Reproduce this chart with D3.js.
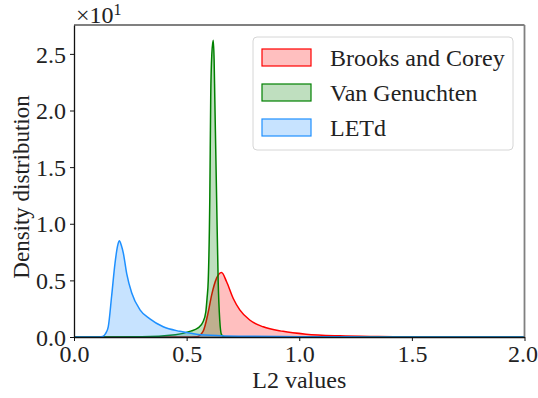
<!DOCTYPE html>
<html>
<head>
<meta charset="utf-8">
<script src="https://cdn.jsdelivr.net/npm/d3@7"></script>
<style>
  body { margin: 0; background: #fff; }
  svg text { font-family: "Liberation Serif", "Times New Roman", serif; fill: #222; }
</style>
</head>
<body>
<div id="chart"></div>
<script>
var series_names = ["Brooks and Corey", "Van Genuchten", "LETd"]
var series_colors = ["#ff0000", "#008000", "#1e90ff"]

var bc_x = [0, 0.5, 0.544, 0.573, 0.596, 0.611, 0.633, 0.655, 0.677, 0.707, 0.736, 0.78, 0.84, 0.928, 1.03, 1.18, 1.35, 1.55, 1.7, 2.0]
var bc_y = [0, 0, 0.02, 0.5, 2.2, 3.7, 5.2, 5.7, 4.9, 3.4, 2.4, 1.5, 0.9, 0.5, 0.25, 0.1, 0.04, 0.01, 0, 0]

var vg_x = [0, 0.3, 0.45, 0.514, 0.551, 0.573, 0.585, 0.591, 0.596, 0.603, 0.607, 0.612, 0.618, 0.622, 0.625, 0.633, 0.64, 0.647, 0.655, 0.67, 2.0]
var vg_y = [0, 0.02, 0.2, 0.5, 0.8, 1.35, 2.2, 3.5, 5, 12.4, 21.2, 25, 26.2, 24.5, 21.2, 12.4, 5, 1.5, 0.2, 0, 0]

var let_x = [0, 0.10, 0.127, 0.14, 0.152, 0.167, 0.182, 0.193, 0.201, 0.21, 0.219, 0.234, 0.256, 0.293, 0.337, 0.396, 0.47, 0.544, 0.65, 0.8, 1.0, 1.3, 1.6, 2.0]
var let_y = [0, 0, 0.05, 0.3, 0.9, 3.6, 6.5, 8.0, 8.5, 8.1, 7.4, 5.6, 3.9, 2.4, 1.6, 0.9, 0.5, 0.25, 0.12, 0.06, 0.03, 0.01, 0, 0]

var x_ticks = [0, 0.5, 1.0, 1.5, 2.0]
var y_ticks = [0, 5, 10, 15, 20, 25]

var width = 538, height = 398
var m_left = 74, m_right = 524.5, m_top = 25, m_bottom = 337

var svg = d3.select("#chart").append("svg")
    .attr("width", width)
    .attr("height", height)

var x = d3.scaleLinear().domain([0, 2]).range([m_left, m_right])
var y = d3.scaleLinear().domain([0, 27.55]).range([m_bottom, m_top])

var data = [
    {name: series_names[0], color: series_colors[0], xs: bc_x, ys: bc_y},
    {name: series_names[1], color: series_colors[1], xs: vg_x, ys: vg_y},
    {name: series_names[2], color: series_colors[2], xs: let_x, ys: let_y}
]

var area = d3.area()
    .x(function(d){ return x(d[0]) })
    .y0(y(0))
    .y1(function(d){ return y(d[1]) })
    .curve(d3.curveMonotoneX)

var line = d3.line()
    .x(function(d){ return x(d[0]) })
    .y(function(d){ return y(d[1]) })
    .curve(d3.curveMonotoneX)

var plot = svg.append("g")

data.forEach(function(s){
    var pts = s.xs.map(function(v, i){ return [v, s.ys[i]] })
    plot.append("path")
        .attr("d", area(pts))
        .style("fill", s.color)
        .style("fill-opacity", 0.25)
        .style("stroke", "none")
    plot.append("path")
        .attr("d", line(pts))
        .style("fill", "none")
        .style("stroke", s.color)
        .style("stroke-width", 1.5)
})

// spines: top and right gray, left and bottom dark
svg.append("line").attr("x1", m_left).attr("x2", m_right).attr("y1", m_top).attr("y2", m_top)
    .style("stroke", "#808080").style("stroke-width", 1.8)
svg.append("line").attr("x1", m_right).attr("x2", m_right).attr("y1", m_top).attr("y2", m_bottom)
    .style("stroke", "#808080").style("stroke-width", 1.8)

var xAxis = svg.append("g")
    .attr("transform", "translate(0," + m_bottom + ")")
    .call(d3.axisBottom(x).tickValues(x_ticks).tickSize(4).tickSizeOuter(0)
        .tickFormat(d3.format(".1f")))
var yAxis = svg.append("g")
    .attr("transform", "translate(" + m_left + ",0)")
    .call(d3.axisLeft(y).tickValues(y_ticks).tickSize(4).tickSizeOuter(0)
        .tickFormat(function(d){ return d3.format(".1f")(d / 10) }))

;[xAxis, yAxis].forEach(function(a){
    a.select(".domain").style("stroke", "#111").style("stroke-width", 1.3)
    a.selectAll(".tick line").style("stroke", "#111").style("stroke-width", 1)
    a.selectAll(".tick text")
        .style("font-family", '"Liberation Serif", serif')
        .style("font-size", "24px")
        .style("fill", "#222")
})
xAxis.selectAll(".tick text").attr("y", 8).attr("dy", "0.71em")
// keep the last label inside the window
xAxis.selectAll(".tick text").filter(function(d){ return d == 2 }).attr("x", -2)
yAxis.selectAll(".tick text").attr("x", -8).attr("dy", "0.34em")

// axis labels
svg.append("text")
    .attr("x", (m_left + m_right) / 2)
    .attr("y", 388)
    .attr("text-anchor", "middle")
    .style("font-size", "24px")
    .text("L2 values")

svg.append("text")
    .attr("transform", "translate(29,187) rotate(-90)")
    .attr("text-anchor", "middle")
    .style("font-size", "23px")
    .text("Density distribution")

// offset text
var off = svg.append("text")
    .attr("x", 76)
    .attr("y", 23)
    .style("font-size", "24px")
off.append("tspan").text("\u00d710")
off.append("tspan").attr("dy", -8).style("font-size", "16px").text("1")

// legend
var legend = svg.append("g")
legend.append("rect")
    .attr("x", 253).attr("y", 37)
    .attr("width", 260).attr("height", 113)
    .attr("rx", 4)
    .style("fill", "#fff").style("fill-opacity", 0.8)
    .style("stroke", "#d6d6d6").style("stroke-width", 1)

data.forEach(function(s, i){
    var cy = 57.5 + i * 35
    legend.append("rect")
        .attr("x", 262).attr("y", cy - 8.5)
        .attr("width", 49).attr("height", 17)
        .style("fill", d3.color(s.color).copy({opacity: 0.25}))
        .style("stroke", s.color)
        .style("stroke-width", 1.2)
    legend.append("text")
        .attr("x", 330)
        .attr("y", cy + 8)
        .style("font-size", "24px")
        .text(s.name)
})
</script>
</body>
</html>
